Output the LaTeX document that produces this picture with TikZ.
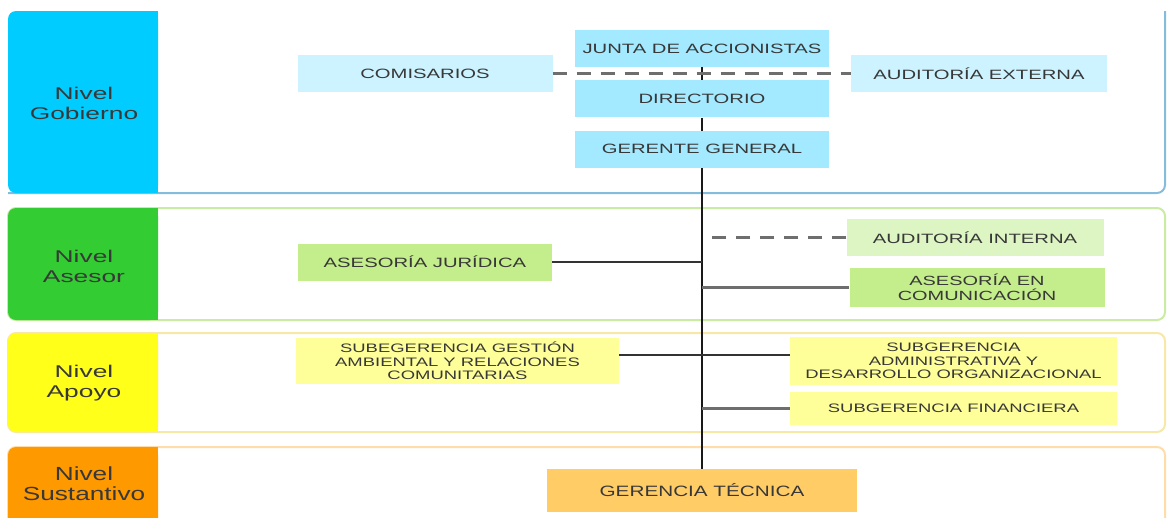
\documentclass[tikz,border=0pt]{standalone}
\usepackage{fontspec}
\setmainfont{Liberation Sans}[FakeStretch=1.5]
\newfontfamily\nivelfont{Liberation Sans}[FakeStretch=1.55]
\newfontfamily\angostafont{Liberation Sans}[FakeStretch=1.38]
\usetikzlibrary{positioning}
\definecolor{txt}{HTML}{383838}
\definecolor{gobside}{HTML}{00CCFF}
\definecolor{asesside}{HTML}{33CC33}
\definecolor{apoyside}{HTML}{FFFF1A}
\definecolor{sustside}{HTML}{FF9900}
\definecolor{gobline}{HTML}{86BCDB}
\definecolor{asesline}{HTML}{C9EBA3}
\definecolor{apoyline}{HTML}{F7E8A8}
\definecolor{sustline}{HTML}{FFDDAA}
\definecolor{gobfuerte}{HTML}{A3E9FF}
\definecolor{gobsuave}{HTML}{CCF3FF}
\definecolor{asesfuerte}{HTML}{C4ED8B}
\definecolor{asessuave}{HTML}{DDF5C3}
\definecolor{apoyo}{HTML}{FFFF99}
\definecolor{sust}{HTML}{FFCC66}
\definecolor{trazo}{HTML}{6E6E6E}

\begin{document}
\begin{tikzpicture}[x=1pt,y=-1pt,
  caja/.style={fill=#1, minimum height=37pt, inner sep=0pt, align=center, text=txt,
    font=\fontsize{13.5}{16}\selectfont},
  chica/.style={font=\fontsize{12.3}{13.5}\selectfont},
  nivel/.style={align=center, text=txt, font=\nivelfont\fontsize{17}{20}\selectfont},
  tronco/.style={draw=black!90, line width=2pt},
  rama/.style={draw=black!80, line width=1.5pt},
  ramagris/.style={draw=trazo, line width=2.2pt},
  discont/.style={draw=trazo, line width=2.4pt, dash pattern=on 14pt off 10pt}]
  \useasboundingbox (0,0) rectangle (1167,517);
  \clip (0,0) rectangle (1167,517);
  \draw[gobline, line width=2pt, rounded corners=8pt] (1165,11) |- (8,193);
  \draw[asesline, line width=2pt, rounded corners=8pt] (8,208) rectangle (1165,320);
  \draw[apoyline, line width=2pt, rounded corners=8pt] (8,333) rectangle (1165,432);
  \draw[sustline, line width=2pt, rounded corners=8pt] (8,447) rectangle (1165,545);
  \foreach \ya/\yb/\c in {11/193/gobside, 208/320/asesside, 333/432/apoyside, 447/545/sustside} {
    \fill[\c, rounded corners=8pt] (8,\ya) rectangle (158,\yb);
    \fill[\c] (140,\ya) rectangle (158,\yb);
  }
  \node[nivel] (ngob) at (84,103) {Nivel\\Gobierno};
  \node[nivel] (nases) at (84,266) {Nivel\\Asesor};
  \node[nivel] (napoy) at (84,383) {Nivel\\Apoyo};
  \node[nivel, font=\angostafont\fontsize{19}{20}\selectfont] (nsust) at (84,484) {Nivel\\Sustantivo};

  \node[caja=gobfuerte, minimum width=254pt] (junta) at (702,48.5) {JUNTA DE ACCIONISTAS};
  \node[caja=gobfuerte, minimum width=254pt, below=13pt of junta] (directorio) {DIRECTORIO};
  \node[caja=gobfuerte, minimum width=254pt, below=13pt of directorio] (gerente) {GERENTE GENERAL};
  \node[caja=gobsuave, minimum width=255pt] (comisarios) at (425,73.5) {COMISARIOS};
  \node[caja=gobsuave, minimum width=256pt] (audext) at (979,73.5) {AUDITORÍA EXTERNA};
  \node[caja=asesfuerte, minimum width=254pt] (asjur) at (425,262) {ASESORÍA JURÍDICA};
  \node[caja=asessuave, minimum width=257pt] (audint) at (975,237.5) {AUDITORÍA INTERNA};
  \node[caja=asesfuerte, minimum width=255pt, minimum height=39pt,
    font=\fontsize{13.3}{15}\selectfont] (ascom) at (977,287.5) {ASESORÍA EN\\COMUNICACIÓN};
  \node[caja=apoyo, chica, minimum width=323pt, minimum height=46pt] (subgest) at (457.5,361)
    {SUBEGERENCIA GESTIÓN\\AMBIENTAL Y RELACIONES\\COMUNITARIAS};
  \node[caja=apoyo, chica, minimum width=327pt, minimum height=48pt] (subadm) at (953.5,361)
    {SUBGERENCIA\\ADMINISTRATIVA Y\\DESARROLLO ORGANIZACIONAL};
  \node[caja=apoyo, chica, minimum width=327pt, minimum height=33pt] (subfin) at (953.5,408.5)
    {SUBGERENCIA FINANCIERA};
  \node[caja=sust, minimum width=310pt, minimum height=43pt,
    font=\angostafont\fontsize{15}{17}\selectfont] (gertec) at (702,490.5) {GERENCIA TÉCNICA};

  \draw[tronco] (junta) -- (directorio) (directorio) -- (gerente) (gerente) -- (gertec);
  \draw[discont] (comisarios) -- (audext);
  \draw[rama] (asjur) -- (asjur -| gerente);
  \draw[discont] (audint) -- ([xshift=6pt]audint -| gerente);
  \draw[ramagris] (ascom) -- (ascom -| gerente);
  \draw[rama] ([yshift=6pt]subgest.east) -- ([yshift=6pt]subadm.west);
  \draw[ramagris] (subfin) -- (subfin -| gerente);
\end{tikzpicture}
\end{document}
